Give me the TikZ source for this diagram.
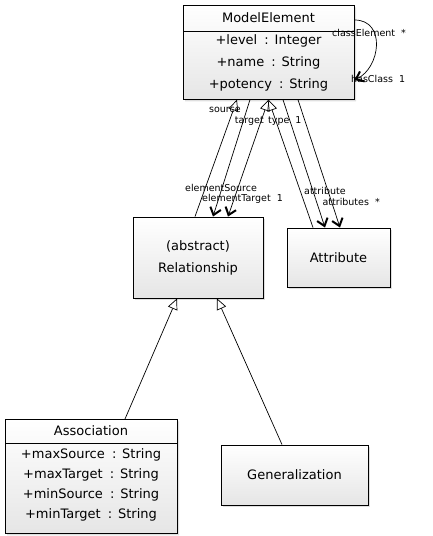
\documentclass[tikz,border=0pt]{standalone}
\usepackage{fontspec}
\setmainfont{DejaVu Sans}
\usepackage{tikz}
\usetikzlibrary{shapes.multipart, arrows.meta, positioning, shadows}

\newcommand{\tsep}{\hspace{0.55em}:\hspace{0.45em}}
\newcommand{\rowstrut}[2]{\rule[-#2]{0pt}{\dimexpr #1+#2\relax}}

\begin{document}
\begin{tikzpicture}[
    x=1pt, y=-1pt,
    every node/.style={font=\fontsize{13}{22}\selectfont},
    cls/.style={rectangle split, rectangle split parts=2, draw, line width=0.9pt, align=center, inner xsep=4pt, inner ysep=0pt, top color=white, bottom color=black!10, drop shadow={shadow xshift=2pt, shadow yshift=-2pt, opacity=0.25}},
    box/.style={rectangle, draw, line width=0.9pt, align=center, inner sep=0pt, top color=white, bottom color=black!10, drop shadow={shadow xshift=2pt, shadow yshift=-2pt, opacity=0.25}},
    lbl/.style={font=\fontsize{9.5}{11}\selectfont, inner sep=0pt},
    inh/.style={-{Triangle[open, length=11pt, width=10pt]}, line width=0.7pt},
    arr/.style={-{Straight Barb[length=7pt, width=11pt, line width=2pt]}, line width=0.7pt},
    inharr/.style={{Triangle[open, length=11pt, width=10pt]}-{Straight Barb[length=7pt, width=11pt, line width=2pt]}, line width=0.7pt}
]
    \useasboundingbox (0,0) rectangle (433,536);

    \node (me) [cls, minimum width=171pt, anchor=north] at (268.5,5)
        {\rowstrut{16.5pt}{8.5pt}ModelElement
         \nodepart{second}\rowstrut{13pt}{0pt}+level\tsep Integer\\+name\tsep String\\+potency\tsep String\rowstrut{0pt}{10pt}};

    \node (rel) [box, minimum width=130pt, minimum height=81pt] at (198,257.5) {(abstract)\\Relationship};
    \node (att) [box, minimum width=103pt, minimum height=59pt] at (338.5,257.5) {Attribute};

    \node (asc) [cls, minimum width=172pt, anchor=north, font=\fontsize{13}{20}\selectfont] at (91,419)
        {\rowstrut{16pt}{7pt}Association
         \nodepart{second}\rowstrut{15pt}{0pt}+maxSource\tsep String\\+maxTarget\tsep String\\+minSource\tsep String\\+minTarget\tsep String\rowstrut{0pt}{14pt}};
    \node (gen) [box, minimum width=147pt, minimum height=60pt] at (294.5,475) {Generalization};

    % ModelElement <-> Relationship
    \draw[inh] ([xshift=-3pt]rel.north) -- ([xshift=-31.5pt]me.south);
    \draw[arr] ([xshift=-18.5pt]me.south) -- ([xshift=15pt]rel.north);
    \draw[inharr] (me.south) -- ([xshift=30pt]rel.north);

    % ModelElement <-> Attribute
    \draw[inh] ([xshift=-25.5pt]att.north) -- (me.south);
    \draw[arr] ([xshift=14.5pt]me.south) -- ([xshift=-13.5pt]att.north);
    \draw[arr] ([xshift=29.5pt]me.south) -- ([xshift=1.5pt]att.north);

    % self loop
    \draw[arr] ([yshift=-15pt]me.north east) .. controls +(32,0) and +(26,-12) .. ([yshift=-75pt]me.north east);

    % subclasses
    \draw[inh] ([xshift=34pt]asc.north) -- ([xshift=-21pt]rel.south);
    \draw[inh] ([xshift=-12.5pt]gen.north) -- ([xshift=19pt]rel.south);

    % role names
    \node (lsrc) [lbl, anchor=west] at (209,110) {source};
    \node (ltgt) [lbl, anchor=east] at (264,121) {target};
    \node (ltype) [lbl, anchor=west] at (268,121) {type\ \ 1};
    \node (lesrc) [lbl, anchor=west] at (185,188) {elementSource};
    \node (letgt) [lbl, anchor=west] at (202,199) {elementTarget\ \ 1};
    \node (latt) [lbl, anchor=west] at (304,191) {attribute};
    \node (latts) [lbl, anchor=east] at (380,202) {attributes\ \ *};
    \node (lcel) [lbl, anchor=west] at (332,33) {classElement\ \ *};
    \node (lcls) [lbl, anchor=west] at (351,79) {hasClass\ \ 1};
\end{tikzpicture}
\end{document}
